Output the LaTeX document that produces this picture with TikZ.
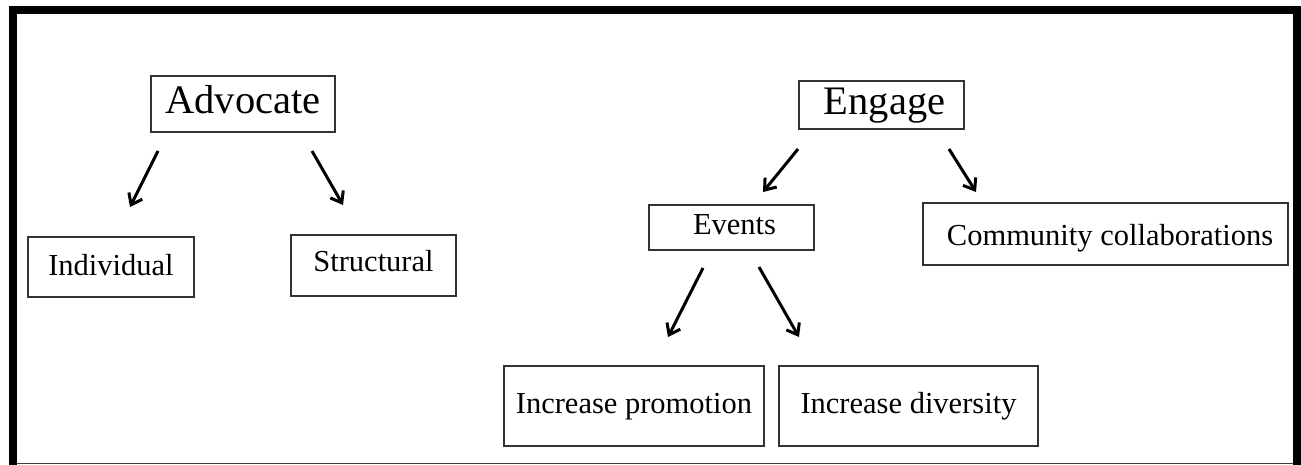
\documentclass[tikz,border=0pt]{standalone}
\usepackage{fontspec}
\setmainfont{Liberation Serif}
\usetikzlibrary{arrows.meta}
\begin{document}
\begin{tikzpicture}[x=1pt,y=-1pt,
  box/.style={draw=black!80,line width=1.3pt,inner sep=0pt,anchor=center,
    font=\fontsize{30.5}{36}\selectfont,text height=21pt,text depth=8pt},
  bigbox/.style={box,font=\fontsize{40.5}{48}\selectfont,text height=28pt,text depth=8pt},
  arr/.style={line width=3pt,-{Straight Barb[length=10pt,width=15pt,line width=3pt]}}]
\useasboundingbox (0,0) rectangle (1301,465);
% frame
\fill[black] (9,6) rectangle (1301,14);
\fill[black] (9,6) rectangle (17,465);
\fill[black] (1293,6) rectangle (1301,465);
\draw[line width=1.5pt,black!75] (17,463.5) -- (1293,463.5);
% nodes
\node[bigbox,minimum width=184pt,minimum height=56pt] (adv) at (243,104) {Advocate\hspace{10pt}};
\node[bigbox,minimum width=165pt,minimum height=48pt] (eng) at (881.5,105) {\hspace{6pt}Engage};
\node[box,minimum width=166pt,minimum height=60pt,text height=22pt,text depth=6pt] (ind) at (111,267) {Individual};
\node[box,minimum width=165pt,minimum height=61pt,text height=21pt,text depth=10pt] (str) at (373.5,265.5) {Structural};
\node[box,minimum width=165pt,minimum height=45pt,text height=21pt,text depth=8pt] (evt) at (731.5,227.5) {\hspace{6pt}Events};
\node[box,minimum width=365pt,minimum height=62pt,text height=24pt,text depth=2pt] (com) at (1105.5,234) {\hspace{9pt}Community collaborations};
\node[box,minimum width=260pt,minimum height=80pt,text height=21pt,text depth=7pt] (pro) at (634,406) {Increase promotion\hspace{6pt}};
\node[box,minimum width=259pt,minimum height=80pt,text height=21pt,text depth=7pt] (div) at (908.5,406) {Increase diversity};
% arrow ends
\coordinate (a1s) at (158,151); \coordinate (a1e) at (130,207);
\coordinate (a2s) at (312,151); \coordinate (a2e) at (343,205);
\coordinate (e1s) at (798,149); \coordinate (e1e) at (763,192);
\coordinate (e2s) at (949,149); \coordinate (e2e) at (976,192);
\coordinate (v1s) at (703,268); \coordinate (v1e) at (668,337);
\coordinate (v2s) at (759,267); \coordinate (v2e) at (799,337);
\draw[arr] (a1s) -- (a1e);
\draw[arr] (a2s) -- (a2e);
\draw[arr] (e1s) -- (e1e);
\draw[arr] (e2s) -- (e2e);
\draw[arr] (v1s) -- (v1e);
\draw[arr] (v2s) -- (v2e);
\end{tikzpicture}
\end{document}
